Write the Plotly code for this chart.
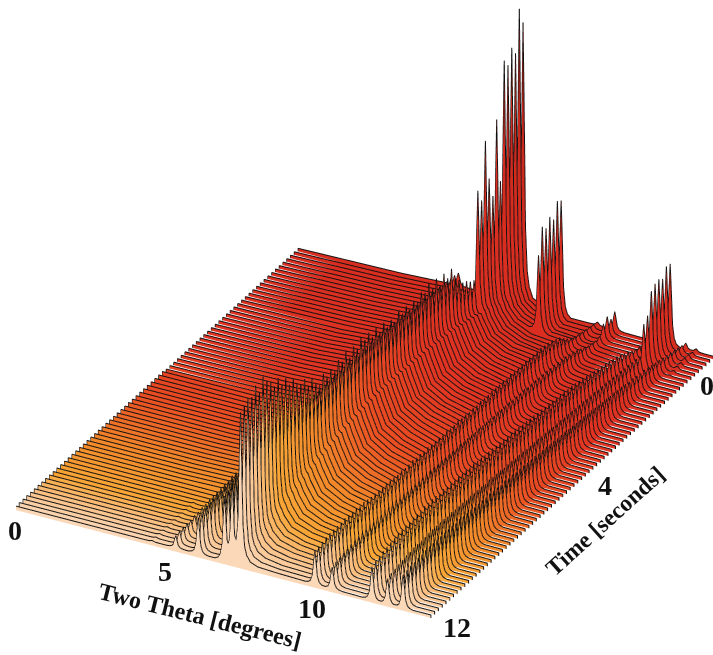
import numpy as np
import plotly.graph_objects as go

peak_pos = [3.95, 4.63, 5.28, 6.04, 6.26, 6.50, 7.60, 8.65, 9.15, 10.30, 10.75, 11.20, 11.50]
p0 = [5]*12 + [4]*64
p1 = [16,17,17,18,18,19,19,20,20,21, 21,22,22,23,23,24,24,24,25,25, 26,26,27,26,27,27,28,27,28,28,
      28,29,28,29,29,30,29,30,30,29, 30,31,30,31,30,31,31,30,31,30, 31,30,31,30,30,31,30,30,29,30,
      29,28,28,27,26,26,25,24,24,23, 23,22,22,21,21,20]
p2 = [40,42,43,44,45,46,46,47,48,48, 48,49,50,50,50,51,50,51,50,50, 50,50,49,50,49,49,48,49,48,48,
      48,47,47,47,46,46,46,45,45,45, 44,44,44,43,43,43,42,42,42,41, 41,41,40,40,39,39,38,38,37,36,
      35,34,33,32,30,28,26,24,22,20, 18,16,14,12,10,8]
p3 = [67,69,70,72,73,74,75,76,77,78, 78,79,80,80,80,80,79,79,78,78, 77,77,76,76,75,75,74,74,73,73,
      72,72,71,71,70,70,69,68,68,67, 66,66,65,65,64,63,63,62,61,60, 60,59,58,57,56,55,54,52,50,48,
      45,42,40,37,34,31,28,25,22,20, 18,16,14,12,10,8]
p4 = [80,82,84,85,86,88,88,90,90,90, 90,90,89,89,88,88,87,87,86,86, 85,85,84,84,83,83,82,82,81,81,
      80,80,79,79,78,78,77,77,76,76, 75,75,74,74,73,73,72,72,71,71, 70,70,69,68,67,66,65,63,61,59,
      56,53,50,47,44,41,38,35,32,29, 26,24,22,20,18,16]
p5 = [155,158,163,160,168,158,170,162,158,150, 155,145,148,138,140,133,128,130,120,124,
      115,110,118,112,116,110,118,113,120,110, 118,112,120,114,118,110,116,108,114,106,
      110,104,112,106,110,102,108,104,110,106, 112,104,110,100,108,100,106,92,88,82,
      80,76,74, 160,147,203,162,141,214,149,266,258,272,263,304,287]
p6 = [0]*64 + [2,3,4,5,4,85,110,105,113,107,122,119]
p7 = [37,38,39,40,41,41,41,41,42,41, 41,41,40,41,40,39,39,39,38,39, 38,38,37,38,37,37,38,37,37,36,
      37,36,36,36,35,36,35,35,36,35, 35,34,35,34,35,34,34,35,34,34, 34,33,34,33,33,33,34,33,33,32,
      33,32,31,30,28,26,22,18,15,13, 12,11,10,9,8,7]
p8 = [25,27,28,29,30,31,31,32,32,33, 33,33,34,33,34,34,33,34,33,33, 33,32,33,32,33,32,32,32,31,32,
      31,31,31,30,31,30,30,30,29,30, 29,29,29,28,29,28,28,28,27,27, 27,27,26,26,26,25,25,25,24,24,
      23,23,22,21,20,18,16,14,12,11, 10,11,20,24,18,22]
p9 = [36,38,40,41,42,43,44,45,45,46, 46,47,47,47,48,48,48,48,47,48, 47,47,46,47,46,46,45,46,45,45,
      44,44,44,43,43,42,42,42,41,41, 40,40,39,39,38,38,37,37,36,36, 35,35,34,34,33,32,31,30,29,28,
      27,26,25,24,23,22,20,18,16,14, 12,11,10,9,8,7]
p10 = [28,30,31,32,33,34,34,35,35,35, 35,36,36,36,36,36,35,36,35,35, 35,34,35,34,34,34,33,34,33,33,
       33,32,32,32,31,31,31,30,30,30, 30,29,29,29,28,28,28,27,27,27, 26,26,26,25,25,25,24,24,24,23,
       23,22,22,21,21,20,20,19,48,53, 74,78,79,76,85,84]
p11 = [36,37,38,38,39,39,40,40,40,40, 40,40,40,40,39,40,39,39,39,38, 38,38,37,38,37,37,36,37,36,36,
       35,35,35,34,34,34,33,33,33,32, 32,31,31,31,30,30,29,29,29,28, 28,27,27,26,26,25,25,24,24,23,
       22,22,21,20,20,19,18,17,16,15, 14,13,12,11,10,9]
p12 = [0]*68 + [4,5,6,6,7,7,6,6]
peak_heights = [p0,p1,p2,p3,p4,p5,p6,p7,p8,p9,p10,p11,p12]

bg_pos = [0, 3.0, 4.2, 5.9, 6.7, 7.0, 7.5, 8.5, 10.0, 12.0]
bg_a = [4]*40 + [3]*36
bg_b = [4]*60 + [5]*16
bg_c = [4]*16 + [5]*14 + [6]*20 + [7]*26
bg_d = [4,4,5,6,7,8,9,10,10,11, 12,13,14,15,16,17,18,18,19,19, 20,20,20,21,21,21,22,22,22,22,
        23,23,23,23,23,24,24,24,24,24, 24,24,24,24,24,24,24,23,23,23, 23,23,22,22,22,21,21,20,20,19,
        19,18,17,16,15,14,14,13,12,11, 11,10,10,9,9,8]
bg_e = [10,12,14,16,18,20,22,24,26,28, 30,32,34,35,37,38,40,41,42,44, 45,46,47,48,49,50,51,52,52,53,
        54,54,55,55,56,56,56,56,56,56, 56,56,55,55,55,55,54,54,54,53, 53,52,52,51,51,50,49,48,47,46,
        45,44,42,40,38,36,34,32,30,28, 26,24,22,20,18,16]
bg_f = [6,7,8,9,10,11,12,13,14,15, 16,17,18,19,20,21,22,22,23,24, 25,25,26,26,27,27,28,28,29,29,
        30,30,30,30,31,31,31,31,31,31, 31,31,31,30,30,30,30,30,29,29, 29,29,28,28,28,27,27,26,26,25,
        25,24,23,22,21,20,19,18,17,16, 15,14,13,12,11,10]
bg_g = [5,5,5,6,6,7,7,8,8,9, 10,10,11,11,12,12,13,13,14,14, 15,15,16,16,17,17,18,18,18,19,
        19,19,20,20,20,20,21,21,21,21, 21,21,21,21,21,20,20,20,20,20, 19,19,19,18,18,18,17,17,16,16,
        15,15,14,13,13,12,11,10,9,9, 8,7,6,5,5,4]
bg_h = [4]*10 + [5]*10 + [7]*10 + [9]*10 + [11]*15 + [9]*10 + [6]*6 + [4]*5
bg_i = [3]*15 + [4]*35 + [3]*26
bg_j = [3]*76
bg_values = [bg_a,bg_b,bg_c,bg_d,bg_e,bg_f,bg_g,bg_h,bg_i,bg_j]

shape_off = [-0.28,-0.18,-0.12,-0.07,-0.03,0,0.03,0.07,0.12,0.18,0.28]
shape_rel = [0,0.03,0.09,0.25,0.70,1,0.70,0.25,0.09,0.03,0]

n_slices = 76
time_front = 9.375
time_step = 0.125

tt_ticks = [(0,15,530),(5,165,571),(10,312,608),(12,457,627)]
time_ticks = [(0,707,385),(4,605,485)]

nodes = set(np.round(np.linspace(0,12,121),3).tolist())
for p in peak_pos:
    for o in shape_off:
        nodes.add(round(p+o,3))
xg = np.array(sorted(nodes))
m = len(xg)

vx,vy,vz,vi,fi,fj,fk = [],[],[],[],[],[],[]
lx,ly,lz = [],[],[]
for s in range(n_slices):
    bg = [c[s] for c in bg_values]
    c = np.interp(xg,bg_pos,bg)
    y = c.copy()
    for p,h in zip(peak_pos,peak_heights):
        hs = h[s]
        if hs<=0: continue
        base = np.interp(p,bg_pos,bg)
        amp = max(hs-base,0)
        y = y + amp*np.interp(xg,np.array(shape_off)+p,shape_rel,left=0,right=0)
    yy = -(time_front - s*time_step)
    idx = len(vx)
    col = s/75 + 0.25*np.maximum(y-150,0)/150
    vx += xg.tolist()+xg.tolist()
    vy += [yy]*(2*m)
    vz += y.tolist()+[0.0]*m
    vi += col.tolist()+[s/75]*m
    for j in range(m-1):
        a,b = idx+j, idx+j+1
        c2,d = idx+m+j, idx+m+j+1
        fi += [a,b]; fj += [b,d]; fk += [c2,c2]
    lx += [0.0]+xg.tolist()+[12.0,None]
    ly += [yy]*(m+2)+[None]
    lz += [0.0]+y.tolist()+[0.0,None]

scale = [[0,'#fbd8b8'],[0.043,'#fbc48e'],[0.107,'#f8a535'],[0.213,'#f2882a'],[0.352,'#e94c22'],
         [0.533,'#e03322'],[0.8,'#d92d20'],[1,'#b8231a']]
fig = go.Figure()
fig.add_trace(go.Mesh3d(x=vx,y=vy,z=vz,i=fi,j=fj,k=fk,intensity=vi,colorscale=scale,cmin=0,cmax=1.25,
    showscale=False,flatshading=True,hoverinfo='skip',
    lighting=dict(ambient=1,diffuse=0,specular=0,roughness=1,fresnel=0)))
fig.add_trace(go.Scatter3d(x=lx,y=ly,z=lz,mode='lines',line=dict(color='#111111',width=2),
    connectgaps=False,hoverinfo='skip',showlegend=False))

ax3 = dict(visible=False)
e = np.radians(29.2); phi = np.radians(-61.95); R = 2.0; zoom = 1.434
zlo, zhi = -96, 310
fig.update_layout(width=713,height=655,margin=dict(l=0,r=0,t=0,b=0),paper_bgcolor='white',showlegend=False,
    scene=dict(domain=dict(x=[16/713,1],y=[0,1]),
        xaxis=dict(ax3,range=[0,12]),yaxis=dict(ax3,range=[-time_front,0]),zaxis=dict(ax3,range=[zlo,zhi]),
        aspectmode='manual',aspectratio=dict(x=zoom*470/469,y=zoom*600/469,z=zoom*(zhi-zlo)/np.cos(e)/469),
        camera=dict(projection=dict(type='orthographic'),up=dict(x=0,y=0,z=1),
            eye=dict(x=R*np.cos(e)*np.cos(phi),y=R*np.cos(e)*np.sin(phi),z=R*np.sin(e)))))
font = dict(family='Liberation Serif',size=28,color='#111')
notes = [(str(v),px,py,0,28) for v,px,py in tt_ticks+time_ticks]+[('Two Theta [degrees]',200,616,14,24),('Time [seconds]',605,521,-42,23.5)]
for t,px,py,a,sz in notes:
    fig.add_annotation(text='<b>'+t+'</b>',x=px/713,y=1-py/655,xref='paper',yref='paper',showarrow=False,textangle=a,
        xanchor='center',yanchor='middle',font=dict(font,size=sz))
fig.write_html("out.html",config=dict(displayModeBar=False),
    post_script="document.body.style.margin='0';document.documentElement.style.overflow='hidden';")
